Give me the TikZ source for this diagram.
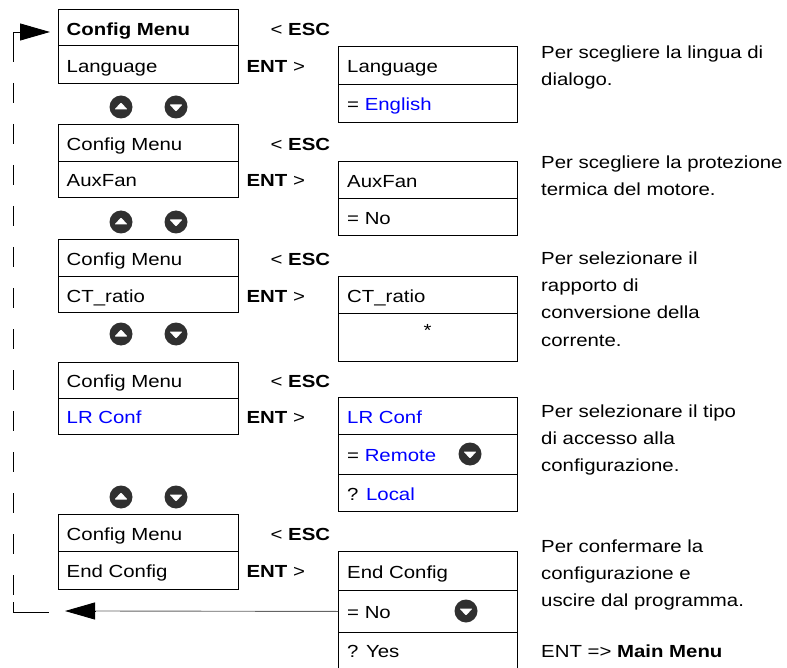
\documentclass[tikz,border=0pt]{standalone}
\usepackage{fontspec}
\setmainfont{Liberation Sans}[FakeStretch=1.165]
\usetikzlibrary{arrows.meta}
\definecolor{selblue}{RGB}{0,0,255}
\definecolor{keydark}{RGB}{48,48,48}
\definecolor{wiregray}{RGB}{100,100,100}

\begin{document}
\begin{tikzpicture}[x=1pt,y=-1pt,
  font=\fontsize{17.5}{21}\selectfont,
  lcell/.style={draw=black, line width=0.9pt, minimum width=180.5pt, inner sep=0pt, anchor=north west},
  rcell/.style={draw=black, line width=0.9pt, minimum width=179pt, inner sep=0pt, anchor=north west},
  ctext/.style={anchor=base west, inner sep=0pt},
  desc/.style={anchor=base west, inner sep=0pt},
  blu/.style={text=selblue},
  upkey/.pic={\fill[keydark] (0,0) circle (11.5pt);
              \fill[white,rounded corners=0.8pt] (-6.5pt,-2.5pt) -- (6.5pt,-2.5pt) -- (0pt,4.5pt) -- cycle;},
  downkey/.pic={\fill[keydark] (0,0) circle (11.5pt);
              \fill[white,rounded corners=0.8pt] (-6.5pt,2.5pt) -- (6.5pt,2.5pt) -- (0pt,-4.5pt) -- cycle;},
  loop/.style={line width=0.9pt, black},
  tip/.style={-{Triangle[length=30pt,width=17pt]}}
]
\useasboundingbox (0,0) rectangle (787,668);

% ---------- left column: menu screens ----------
\node[lcell, minimum height=36.5pt] (m1) at (57.5,9) {};
\node[lcell, minimum height=37.5pt] (s1) at (57.5,45.5) {};
\node[lcell, minimum height=37pt]   (m2) at (57.5,124) {};
\node[lcell, minimum height=36pt]   (s2) at (57.5,161) {};
\node[lcell, minimum height=37pt]   (m3) at (57.5,239) {};
\node[lcell, minimum height=36.5pt] (s3) at (57.5,276) {};
\node[lcell, minimum height=36.5pt] (m4) at (57.5,361.5) {};
\node[lcell, minimum height=36pt]   (s4) at (57.5,398) {};
\node[lcell, minimum height=37pt]   (m5) at (57.5,514) {};
\node[lcell, minimum height=38pt]   (s5) at (57.5,551) {};

\node[ctext] (tm1) at ([shift={(9pt,-7.5pt)}]m1.west) {\textbf{Config Menu}};
\node[ctext] (ts1) at ([shift={(9pt,-7.5pt)}]s1.west) {Language};
\node[ctext] (tm2) at ([shift={(9pt,-7.5pt)}]m2.west) {Config Menu};
\node[ctext] (ts2) at ([shift={(9pt,-7.5pt)}]s2.west) {AuxFan};
\node[ctext] (tm3) at ([shift={(9pt,-7.5pt)}]m3.west) {Config Menu};
\node[ctext] (ts3) at ([shift={(9pt,-7.5pt)}]s3.west) {CT\_ratio};
\node[ctext] (tm4) at ([shift={(9pt,-7.5pt)}]m4.west) {Config Menu};
\node[ctext,blu] (ts4) at ([shift={(9pt,-7.5pt)}]s4.west) {LR Conf};
\node[ctext] (tm5) at ([shift={(9pt,-7.5pt)}]m5.west) {Config Menu};
\node[ctext] (ts5) at ([shift={(9pt,-7.5pt)}]s5.west) {End Config};

% ---------- key hints ----------
\foreach \r in {1,...,5}{
  \node[ctext] (esc\r) at ([shift={(31.5pt,-7.5pt)}]m\r.east) {< \textbf{ESC}};
  \node[ctext] (ent\r) at ([shift={(7.5pt,-7.5pt)}]s\r.east) {\textbf{ENT} >};
}

% ---------- navigation keys ----------
\foreach \y in {107,222,334,497}{
  \pic at (121,\y) {upkey};
  \pic at (176,\y) {downkey};
}

% ---------- right column: parameter screens ----------
\node[rcell, minimum height=38pt] (p1a) at (338,46) {};
\node[rcell, minimum height=38pt] (p1b) at (338,84) {};
\node[rcell, minimum height=37pt] (p2a) at (338,161) {};
\node[rcell, minimum height=37pt] (p2b) at (338,198) {};
\node[rcell, minimum height=37pt] (p3a) at (338,276) {};
\node[rcell, minimum height=48pt] (p3b) at (338,313) {};
\node[rcell, minimum height=37pt] (p4a) at (338,397) {};
\node[rcell, minimum height=40pt] (p4b) at (338,434) {};
\node[rcell, minimum height=37pt] (p4c) at (338,474) {};
\node[rcell, minimum height=39pt] (p5a) at (338,551) {};
\node[rcell, minimum height=42pt] (p5b) at (338,590) {};
% last row runs past the lower edge
\draw[line width=0.9pt] (p5b.south west) -- ++(0,40);
\draw[line width=0.9pt] (p5b.south east) -- ++(0,40);

\node[ctext] (q1a) at ([shift={(9pt,-7.5pt)}]p1a.west) {Language};
\node[ctext] (q1b) at ([shift={(9pt,-7.5pt)}]p1b.west) {= \textcolor{selblue}{English}};
\node[ctext] (q2a) at ([shift={(9pt,-7.5pt)}]p2a.west) {AuxFan};
\node[ctext] (q2b) at ([shift={(9pt,-7.5pt)}]p2b.west) {= No};
\node[ctext] (q3a) at ([shift={(9pt,-7.5pt)}]p3a.west) {CT\_ratio};
\node[anchor=base, inner sep=0pt] (q3b) at (427.5,337) {*};
\node[ctext,blu] (q4a) at ([shift={(9pt,-7.5pt)}]p4a.west) {LR Conf};
\node[ctext] (q4b) at ([shift={(9pt,-7.5pt)}]p4b.west) {= \textcolor{selblue}{Remote}};
\node[ctext] (q4c) at ([shift={(9pt,-7.5pt)}]p4c.west) {? \textcolor{selblue}{Local}};
\node[ctext] (q5a) at ([shift={(9pt,-7.5pt)}]p5a.west) {End Config};
\node[ctext] (q5b) at ([shift={(9pt,-7.5pt)}]p5b.west) {= No};
\node[ctext] (q5c) at (347,657) {? Yes};

\pic at (470,454) {downkey};
\pic at (466,611) {downkey};

% ---------- descriptions ----------
\node[desc] (d1a) at (541,59)  {Per scegliere la lingua di};
\node[desc] (d1b) at (541,86)  {dialogo.};
\node[desc] (d2a) at (541,169) {Per scegliere la protezione};
\node[desc] (d2b) at (541,196) {termica del motore.};
\node[desc] (d3a) at (541,265) {Per selezionare il};
\node[desc] (d3b) at (541,292) {rapporto di};
\node[desc] (d3c) at (541,319) {conversione della};
\node[desc] (d3d) at (541,346) {corrente.};
\node[desc] (d4a) at (541,417) {Per selezionare il tipo};
\node[desc] (d4b) at (541,444) {di accesso alla};
\node[desc] (d4c) at (541,471) {configurazione.};
\node[desc] (d5a) at (541,552) {Per confermare la};
\node[desc] (d5b) at (541,579) {configurazione e};
\node[desc] (d5c) at (541,606) {uscire dal programma.};
\node[desc] (d5d) at (541,657) {ENT => \textbf{Main Menu}};

% ---------- return loop ----------
\coordinate (loopTop)  at (13,32);
\coordinate (entryTip) at (50,32);
\coordinate (loopBot)  at (13,612);
\coordinate (exitTip)  at (65,611);
\draw[loop, tip] (13,42) -- (loopTop) -- (entryTip);
\draw[loop, dash pattern=on 20pt off 21pt] (13,42) -- (13,600);
\draw[loop] (13,602) -- (loopBot) -- (49,612);
\draw[line width=0.9pt, wiregray] (p5b.west) -- ([xshift=30pt]exitTip);
\draw[loop, tip] ([xshift=30pt]exitTip) -- (exitTip);
\end{tikzpicture}
\end{document}
